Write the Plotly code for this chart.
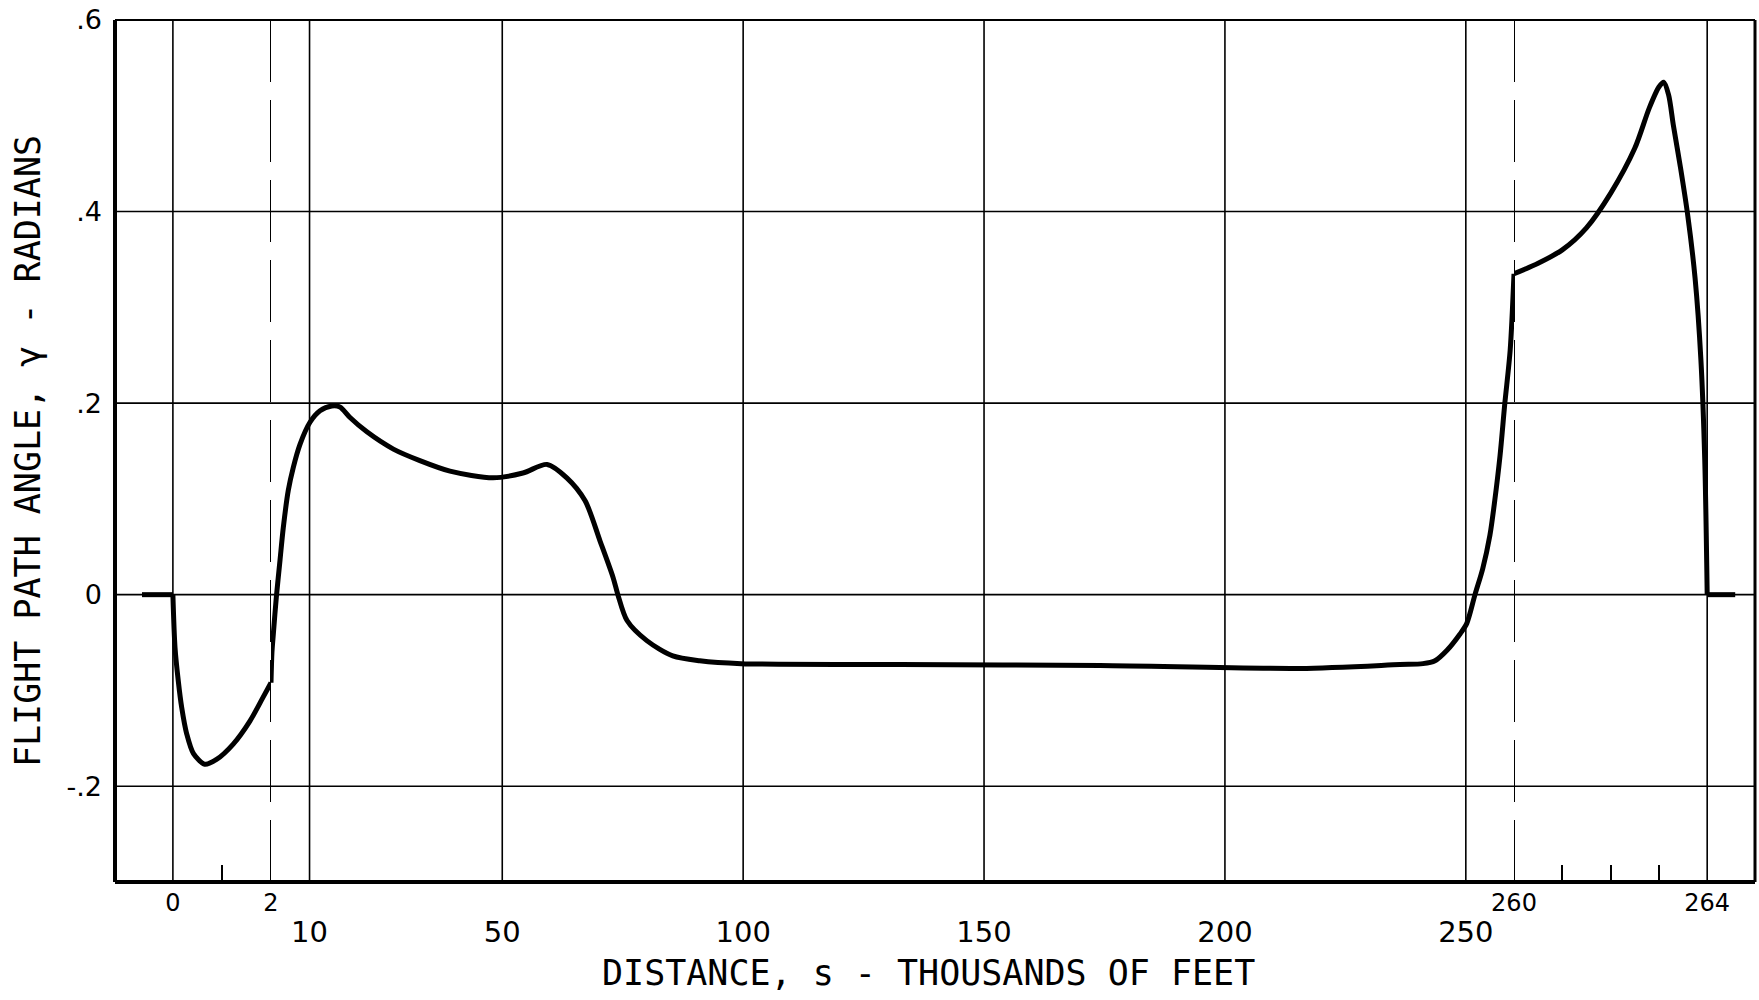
import plotly.graph_objects as go

# ---------------- data (distance in thousands of feet, gamma in radians) ----------------
# level run-in before s = 0
s_lead = [-0.63, 0.0]
gamma_lead = [0.0, 0.0]

# Segment 1: expanded scale, 0 .. 2
s_seg1 = [0.0, 0.043, 0.11, 0.18, 0.28, 0.42, 0.65, 0.89, 1.23, 1.57, 1.84, 2.0]
gamma_seg1 = [0.0, -0.055, -0.090, -0.118, -0.145, -0.166, -0.177, -0.172, -0.156, -0.132,
              -0.107, -0.092]

# Segment 2: normal scale, 2 .. 260
s_seg2 = [2.0, 2.2, 2.5, 3.1, 3.87, 4.55, 5.59, 6.63, 8.02, 10.09, 12.17, 14.6, 16.3, 18.4,
          21.9, 27.4, 32.9, 39.15, 48.1, 54.3, 59.3, 63.4, 67.2, 70.3, 73.0, 74.0, 75.9, 80.0,
          85.4, 91.0, 99.6, 132.6, 174.1, 215.6, 236.3, 241.1, 243.6, 246.1, 248.8, 250.2,
          251.9, 253.5, 255.0, 256.0, 257.1, 258.1, 259.2, 260.0]
gamma_seg2 = [-0.092, -0.060, -0.040, -0.003, 0.036, 0.070, 0.109, 0.133, 0.157, 0.180, 0.192,
              0.197, 0.196, 0.185, 0.170, 0.152, 0.140, 0.129, 0.122, 0.127, 0.136, 0.122, 0.098,
              0.056, 0.018, 0.0, -0.027, -0.048, -0.064, -0.069, -0.072, -0.073, -0.074, -0.077,
              -0.073, -0.072, -0.069, -0.058, -0.041, -0.030, 0.0, 0.027, 0.062, 0.098, 0.145,
              0.200, 0.255, 0.335]

# Segment 3: expanded scale, 260 .. 265
s_seg3 = [260.0, 260.5, 261.0, 261.5, 262.0, 262.5, 262.8, 263.0, 263.1, 263.2, 263.3, 263.45,
          263.6, 263.75, 263.87, 263.95, 264.0]
gamma_seg3 = [0.335, 0.346, 0.360, 0.383, 0.419, 0.466, 0.508, 0.530, 0.535, 0.522, 0.490,
              0.445, 0.395, 0.330, 0.245, 0.140, 0.0]

# level run-out after s = 264
s_tail = [264.0, 264.58]
gamma_tail = [0.0, 0.0]

# axes / ticks / grids
x1_range = [-1.18, 2.0]
x2_range = [2.0, 260.0]
x3_range = [260.0, 264.99]
y_range = [-0.3, 0.6]

x1_tickvals = [0, 2]
x1_ticktext = ["0", "2"]
x2_tickvals = [10, 50, 100, 150, 200, 250]
x2_ticktext = ["10", "50", "100", "150", "200", "250"]
x3_tickvals = [260, 264]
x3_ticktext = ["260", "264"]
x1_minor = [1]
x3_minor = [261, 262, 263]

y_tickvals = [-0.2, 0, 0.2, 0.4, 0.6]
y_ticktext = ["-.2", "0", ".2", ".4", ".6"]

grid_seg1 = [0]
grid_seg2 = [10, 50, 100, 150, 200, 250]
grid_seg3 = [264]
grid_gamma = [-0.2, 0, 0.2, 0.4]
break_seg1 = 2
break_seg3 = 260

y_title = "FLIGHT PATH ANGLE, γ - RADIANS"
x_title = "DISTANCE, s - THOUSANDS OF FEET"

# ---------------- figure ----------------
FONT = "DejaVu Sans"
TFONT = "DejaVu Sans Mono"
W = 5
fig = go.Figure()
curve = dict(color="black", width=W, shape="spline", smoothing=0.8)
curve_lin = dict(color="black", width=W)
for xs, ys, xa, ln in [(s_lead, gamma_lead, "x", curve_lin),
                       (s_seg1, gamma_seg1, "x", curve),
                       (s_seg2, gamma_seg2, "x2", curve),
                       (s_seg3, gamma_seg3, "x3", curve),
                       (s_tail, gamma_tail, "x3", curve_lin)]:
    fig.add_trace(go.Scatter(x=xs, y=ys, xaxis=xa, yaxis="y", mode="lines", line=ln,
                             showlegend=False, hoverinfo="skip"))

d1 = 156 / 1640
d2 = 1399 / 1640

common_x = dict(showgrid=False, zeroline=False, showline=False, ticks="", anchor="y",
                fixedrange=True, tickmode="array", automargin=False)
fig.update_layout(
    width=1759, height=1000,
    margin=dict(l=115, r=4, t=20, b=118, autoexpand=False),
    paper_bgcolor="white", plot_bgcolor="white",
    font=dict(family=FONT, color="black"),
    xaxis=dict(domain=[0, d1], range=x1_range, tickvals=x1_tickvals, ticktext=x1_ticktext,
               tickfont=dict(size=24, family=FONT), ticklabelstandoff=4,
               minor=dict(tickmode="array", tickvals=x1_minor, ticks="inside", ticklen=17,
                          tickwidth=2, tickcolor="black", showgrid=False),
               **common_x),
    xaxis2=dict(domain=[d1, d2], range=x2_range, tickvals=x2_tickvals, ticktext=x2_ticktext,
                tickfont=dict(size=29, family=FONT), ticklabelstandoff=30, **common_x),
    xaxis3=dict(domain=[d2, 1], range=x3_range, tickvals=x3_tickvals, ticktext=x3_ticktext,
                tickfont=dict(size=24, family=FONT), ticklabelstandoff=4,
                minor=dict(tickmode="array", tickvals=x3_minor, ticks="inside", ticklen=17,
                           tickwidth=2, tickcolor="black", showgrid=False),
                **common_x),
    yaxis=dict(domain=[0, 1], range=y_range, tickmode="array", tickvals=y_tickvals,
               ticktext=y_ticktext, tickfont=dict(size=27, family=FONT), ticks="",
               ticklabelstandoff=12, showgrid=False, zeroline=False, showline=False,
               fixedrange=True, automargin=False,
               title=dict(text=y_title, font=dict(size=35, family=TFONT), standoff=15)),
)

shapes = []
grid_line = dict(color="black", width=1.6)
for v in grid_seg1:
    shapes.append(dict(type="line", xref="x", yref="paper", x0=v, x1=v, y0=0, y1=1,
                       line=grid_line, layer="below"))
for v in grid_seg2:
    shapes.append(dict(type="line", xref="x2", yref="paper", x0=v, x1=v, y0=0, y1=1,
                       line=grid_line, layer="below"))
for v in grid_seg3:
    shapes.append(dict(type="line", xref="x3", yref="paper", x0=v, x1=v, y0=0, y1=1,
                       line=grid_line, layer="below"))
for g in grid_gamma:
    shapes.append(dict(type="line", xref="paper", yref="y", x0=0, x1=1, y0=g, y1=g,
                       line=grid_line, layer="below"))
# break lines
dash_line = dict(color="black", width=2, dash="62px,18px")
shapes.append(dict(type="line", xref="x", yref="paper", x0=break_seg1, x1=break_seg1,
                   y0=0, y1=1, line=dash_line, layer="below"))
shapes.append(dict(type="line", xref="x3", yref="paper", x0=break_seg3, x1=break_seg3,
                   y0=0, y1=1, line=dash_line, layer="below"))
# frame
shapes.append(dict(type="line", xref="paper", yref="paper", x0=0, x1=1, y0=1, y1=1,
                   line=dict(color="black", width=2)))
shapes.append(dict(type="line", xref="paper", yref="paper", x0=0, x1=1, y0=0, y1=0,
                   line=dict(color="black", width=4)))
shapes.append(dict(type="line", xref="paper", yref="paper", x0=0, x1=0, y0=0, y1=1,
                   line=dict(color="black", width=4)))
shapes.append(dict(type="line", xref="paper", yref="paper", x0=1, x1=1, y0=0, y1=1,
                   line=dict(color="black", width=3)))
fig.update_layout(shapes=shapes)

fig.add_annotation(text=x_title, xref="paper", yref="paper", x=(928 - 115) / 1640,
                   y=-(973 - 882) / 862, xanchor="center", yanchor="middle",
                   showarrow=False, font=dict(size=35, family=TFONT, color="black"))

fig.write_html("out.html", config={"displayModeBar": False},
               post_script="document.body.style.margin='0px';")
